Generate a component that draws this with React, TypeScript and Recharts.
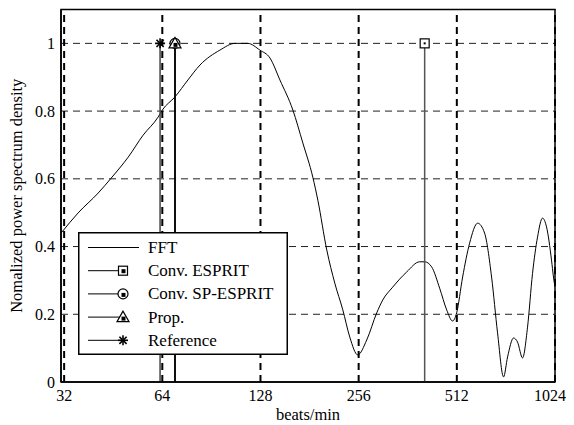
import React from 'react';
import { LineChart, Line, XAxis, YAxis, ReferenceLine, ReferenceArea } from 'recharts';

const xTicks = [32, 64, 128, 256, 512, 1024];
const yTicks = [0, 0.2, 0.4, 0.6, 0.8, 1];
const xDomain = [31.3, 1024];
const yDomain = [0, 1.1];

const fftFreq = [31.33, 35.3, 40.7, 44.6, 50.3, 55.9, 62.1, 64.0, 70.0, 76.7, 83.5, 96.1, 106.9, 117.1, 127.5, 136.8, 146.8, 160.9, 172.6, 185.2, 191.9, 204.4, 216.3, 228.9, 240.4, 254.4, 271.0, 290.8, 303.4, 325.5, 359.4, 393.9, 408, 428.6, 453.5, 476.6, 497, 511.3, 533.4, 560.4, 593, 622.8, 654.4, 682.6, 712.1, 732.6, 764.2, 785.9, 814.3, 843.5, 873.6, 905.2, 937.6, 964.5, 999.1, 1013, 1024];
const fftValue = [0.44, 0.499, 0.558, 0.602, 0.664, 0.729, 0.782, 0.803, 0.842, 0.892, 0.936, 0.98, 1.0, 1.0, 0.98, 0.957, 0.892, 0.803, 0.706, 0.605, 0.537, 0.39, 0.292, 0.213, 0.133, 0.08, 0.124, 0.204, 0.242, 0.28, 0.325, 0.355, 0.355, 0.34, 0.277, 0.213, 0.18, 0.204, 0.31, 0.41, 0.469, 0.44, 0.31, 0.145, 0.015, 0.074, 0.13, 0.118, 0.071, 0.162, 0.32, 0.428, 0.484, 0.458, 0.36, 0.31, 0.28];

const espritFreq = 408;
const spEspritFreq = 70;
const propFreq = 70;
const referenceFreq = 63;
const peakValue = 1;

const fftData = fftFreq.map((x, i) => ({ x, y: fftValue[i] }));
const stem = (x: number) => [{ x, y: 0 }, { x, y: peakValue }];

const FONT = 'Liberation Serif, DejaVu Serif, Times New Roman, serif';

type MarkerKind = 'square' | 'circle' | 'triangle' | 'star';

function Marker({ kind, cx, cy, legend }: { kind: MarkerKind; cx: number; cy: number; legend?: boolean }) {
  if (kind === 'square') {
    return (
      <g>
        <rect x={cx - 4.5} y={cy - 4.5} width={9} height={9} fill="#fff" stroke="#000" strokeWidth={1.2} />
        {legend ? <rect x={cx - 1.5} y={cy - 1.5} width={4} height={4} fill="#000" /> : <rect x={cx - 1} y={cy - 1} width={2} height={2} fill="#000" />}
      </g>
    );
  }
  if (kind === 'circle') {
    return (
      <g>
        <circle cx={cx} cy={cy} r={5} fill="#fff" stroke="#000" strokeWidth={1.2} />
        <rect x={cx - 1.5} y={cy - 1} width={4} height={4} fill="#000" />
      </g>
    );
  }
  if (kind === 'triangle') {
    return (
      <g>
        <polygon points={`${cx},${cy - 6} ${cx - 6},${cy + 4.5} ${cx + 6},${cy + 4.5}`} fill="#fff" stroke="#000" strokeWidth={1.2} />
        <rect x={cx - 1.5} y={cy - 0.5} width={4} height={4} fill="#000" />
      </g>
    );
  }
  return (
    <g stroke="#000" strokeWidth={1.6}>
      <line x1={cx} y1={cy - 5} x2={cx} y2={cy + 5} />
      <line x1={cx - 5} y1={cy} x2={cx + 5} y2={cy} />
      <line x1={cx - 3.6} y1={cy - 3.6} x2={cx + 3.6} y2={cy + 3.6} />
      <line x1={cx - 3.6} y1={cy + 3.6} x2={cx + 3.6} y2={cy - 3.6} />
    </g>
  );
}

const topDot = (kind: MarkerKind) => (props: any) => {
  const { cx, cy, index } = props;
  if (index !== 1) return <g key={`d${index}`} />;
  return (
    <g key={`d${index}`}>
      <Marker kind={kind} cx={cx} cy={cy} />
    </g>
  );
};

const legendItems: { label: string; kind: MarkerKind | null }[] = [
  { label: 'FFT', kind: null },
  { label: 'Conv. ESPRIT', kind: 'square' },
  { label: 'Conv. SP-ESPRIT', kind: 'circle' },
  { label: 'Prop.', kind: 'triangle' },
  { label: 'Reference', kind: 'star' },
];

function LegendBox() {
  return (
    <svg
      width={210}
      height={123}
      style={{ position: 'absolute', left: 69.5, top: 223.5, overflow: 'visible' }}
    >
      <rect x={0.75} y={0.75} width={208.5} height={121.5} fill="#fff" stroke="#000" strokeWidth={1.5} />
      {legendItems.map((it, i) => {
        const cy = 15.5 + i * 23.2;
        return (
          <g key={it.label}>
            <line x1={10} y1={cy} x2={it.kind ? 45 : 61} y2={cy} stroke="#000" strokeWidth={1} />
            {it.kind && <Marker kind={it.kind} cx={45} cy={cy} legend />}
            <text x={70} y={cy} dominantBaseline="central" style={{ fontFamily: FONT, fontSize: 17 }} fill="#000">
              {it.label}
            </text>
          </g>
        );
      })}
    </svg>
  );
}

const YLabel = (props: any) => {
  const vb = props.viewBox || {};
  const cy = vb.y + vb.height / 2;
  const cx = 8;
  return (
    <text
      x={cx}
      y={cy}
      transform={`rotate(-90, ${cx}, ${cy})`}
      textAnchor="middle"
      dominantBaseline="central"
      style={{ fontFamily: FONT, fontSize: 16.5 }}
      fill="#000"
    >
      Nomalized power spectrum density
    </text>
  );
};

const XLabel = (props: any) => {
  const vb = props.viewBox || {};
  const cx = vb.x + vb.width / 2;
  const cy = 406;
  return (
    <text x={cx} y={cy} textAnchor="middle" dominantBaseline="central" style={{ fontFamily: FONT, fontSize: 16.5 }} fill="#000">
      beats/min
    </text>
  );
};

export default function App() {
  return (
    <div style={{ position: 'relative', width: 558, height: 417, fontFamily: FONT }}>
      <LineChart width={558} height={417} margin={{ top: 1.5, right: 11, left: 0, bottom: 0 }} style={{ fontFamily: FONT }}>
        <XAxis
          dataKey="x"
          type="number"
          scale="log"
          domain={xDomain}
          allowDataOverflow
          ticks={xTicks}
          tickLine={false}
          tickMargin={2}
          axisLine={{ stroke: '#000', strokeWidth: 1.5 }}
          tick={{ fill: '#000', fontSize: 16, style: { fontFamily: FONT } }}
          height={43}
          label={<XLabel />}
        />
        <YAxis
          type="number"
          domain={yDomain}
          ticks={yTicks}
          allowDataOverflow
          tickLine={false}
          tickMargin={0}
          width={53}
          axisLine={{ stroke: '#000', strokeWidth: 1.5 }}
          tick={{ fill: '#000', fontSize: 16, style: { fontFamily: FONT } }}
          label={<YLabel />}
        />
        {yTicks.filter((v) => v > 0).map((v) => (
          <ReferenceLine key={`h${v}`} y={v} stroke="#222" strokeWidth={1} strokeDasharray="7 5" />
        ))}
        {xTicks.map((v) => (
          <ReferenceLine key={`v${v}`} x={v} stroke="#000" strokeWidth={2} strokeDasharray="7 5" />
        ))}
        <ReferenceArea x1={xDomain[0]} x2={xDomain[1]} y1={yDomain[0]} y2={yDomain[1]} fill="none" stroke="#000" strokeWidth={1.5} />
        <Line data={fftData} dataKey="y" type="monotone" stroke="#000" strokeWidth={1} dot={false} isAnimationActive={false} />
        <Line data={stem(espritFreq)} dataKey="y" stroke="#555" strokeWidth={1.5} dot={topDot('square')} isAnimationActive={false} />
        <Line data={stem(referenceFreq)} dataKey="y" stroke="#444" strokeWidth={1.5} dot={topDot('star')} isAnimationActive={false} />
        <Line data={stem(spEspritFreq)} dataKey="y" stroke="#000" strokeWidth={1.5} dot={topDot('circle')} isAnimationActive={false} />
        <Line data={stem(propFreq)} dataKey="y" stroke="#000" strokeWidth={1.5} dot={topDot('triangle')} isAnimationActive={false} />
      </LineChart>
      <LegendBox />
    </div>
  );
}
